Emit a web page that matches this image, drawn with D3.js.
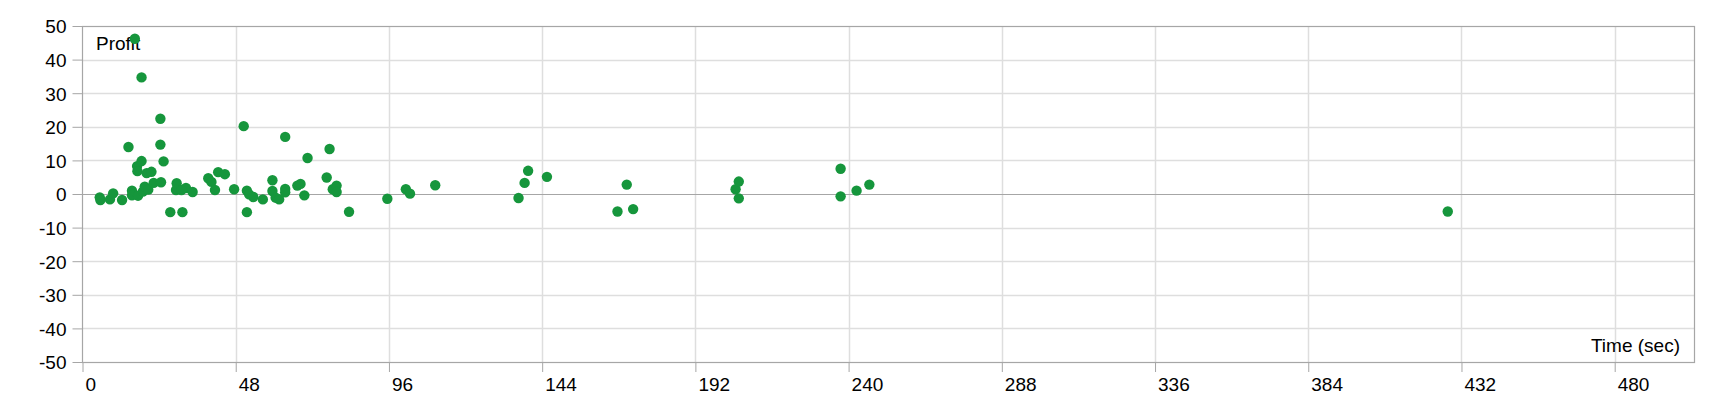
<!DOCTYPE html>
<html>
<head>
<meta charset="utf-8">
<script src="https://cdn.jsdelivr.net/npm/d3@7"></script>
<style>
  html, body { margin: 0; padding: 0; background: #fff; }
  svg { display: block; font-family: "Liberation Sans", Arial, sans-serif; }
</style>
</head>
<body>
<svg id="chart" width="1720" height="400"></svg>
<script>
// ---- data ----
const times = [5.4, 5.6, 8.6, 9.6, 12.4, 14.4, 15.5, 15.5, 16.4, 17.1, 17.2, 18.5, 18.5, 17.4, 18.9, 19.5, 20.6, 20.1, 21.6, 22.3,
  24.4, 24.4, 25.4, 24.6, 27.5, 29.5, 29.3, 31.3, 32.4, 31.0, 34.5, 39.4, 40.4, 41.5, 42.5, 44.6, 47.5, 50.5, 51.5, 51.5,
  52.2, 53.5, 56.5, 59.5, 59.5, 60.5, 61.6, 63.5, 63.5, 63.5, 67.3, 68.3, 69.5, 70.5, 76.5, 77.4, 78.4, 79.6, 79.6, 83.5,
  95.5, 101.3, 102.6, 110.5, 136.6, 138.5, 139.6, 145.5, 167.6, 170.5, 172.5, 204.6, 205.6, 205.6, 237.5, 237.5, 242.5, 246.5, 427.7];
const profits = [-1.0, -1.8, -1.6, 0.2, -1.8, 14.0, 1.0, -0.4, 46.2, 8.3, 6.8, 9.8, 34.7, -0.5, 0.7, 2.2, 1.3, 6.2, 6.6, 3.3,
  22.4, 14.7, 9.7, 3.5, -5.4, 3.2, 1.2, -5.4, 1.8, 1.2, 0.6, 4.7, 3.6, 1.2, 6.5, 5.9, 1.4, 20.2, 1.0, -5.4,
  -0.1, -0.9, -1.6, 4.1, 0.9, -1.1, -1.6, 17.0, 1.5, 0.5, 2.5, 3.0, -0.4, 10.7, 4.9, 13.4, 1.4, 2.5, 0.6, -5.3,
  -1.4, 1.4, 0.1, 2.6, -1.2, 3.3, 6.9, 5.1, -5.2, 2.8, -4.5, 1.4, 3.7, -1.3, 7.5, -0.7, 1.0, 2.8, -5.2];
const xTicks = [0, 48, 96, 144, 192, 240, 288, 336, 384, 432, 480];
const yTicks = [-50, -40, -30, -20, -10, 0, 10, 20, 30, 40, 50];
const xDomain = [0, 505];
const yDomain = [-50, 50];
const xTitle = "Time (sec)";
const yTitle = "Profit";

// ---- layout ----
const svg = d3.select("#chart");
const L = 82.5, R = 1694.5, T = 26, B = 362;
const x = d3.scaleLinear().domain(xDomain).range([L, R]);
const y = d3.scaleLinear().domain(yDomain).range([B, T]);

const gridColor = "#dedede";
const axisColor = "#a6a6a6";
const dotColor = "#16963c";
const FS = 19;

// horizontal gridlines
svg.append("g").selectAll("line").data(yTicks.filter(d => d !== 0 && d !== 50 && d !== -50)).join("line")
  .attr("x1", L).attr("x2", R)
  .attr("y1", d => Math.round(y(d)) + 0.5).attr("y2", d => Math.round(y(d)) + 0.5)
  .attr("stroke", gridColor).attr("stroke-width", 1.5);

// vertical gridlines
svg.append("g").selectAll("line").data(xTicks.filter(d => d !== 0)).join("line")
  .attr("y1", T).attr("y2", B)
  .attr("x1", d => Math.round(x(d)) + 0.5).attr("x2", d => Math.round(x(d)) + 0.5)
  .attr("stroke", gridColor).attr("stroke-width", 1.5);

// zero line
svg.append("line")
  .attr("x1", L).attr("x2", R)
  .attr("y1", Math.round(y(0)) + 0.5).attr("y2", Math.round(y(0)) + 0.5)
  .attr("stroke", axisColor).attr("stroke-width", 1);

// border
svg.append("rect")
  .attr("x", L).attr("y", T + 0.5).attr("width", R - L).attr("height", B - T)
  .attr("fill", "none").attr("stroke", axisColor).attr("stroke-width", 1.2);

// y axis
const yAxis = d3.axisLeft(y).tickValues(yTicks).tickSize(10).tickPadding(6).tickFormat(d => String(d));
const gy = svg.append("g").attr("transform", `translate(${L},0)`).call(yAxis);
gy.select(".domain").remove();
gy.selectAll(".tick line").attr("stroke", axisColor);
gy.selectAll(".tick text").attr("fill", "#000").attr("font-size", FS)
  .attr("font-family", "Liberation Sans, Arial, sans-serif").attr("dy", "0.36em");

// x axis
const xAxis = d3.axisBottom(x).tickValues(xTicks).tickSize(10).tickPadding(6).tickFormat(d => String(d));
const gx = svg.append("g").attr("transform", `translate(0,${B})`).call(xAxis);
gx.select(".domain").remove();
gx.selectAll(".tick line").attr("stroke", axisColor);
gx.selectAll(".tick text").attr("fill", "#000").attr("font-size", FS)
  .attr("font-family", "Liberation Sans, Arial, sans-serif")
  .attr("text-anchor", "start").attr("x", 2.5).attr("y", 0).attr("dy", 28.5);

// titles
svg.append("text").attr("x", 96).attr("y", 50).attr("font-size", FS).attr("fill", "#000").text(yTitle);
svg.append("text").attr("x", 1680).attr("y", 351.5).attr("font-size", FS).attr("fill", "#000")
  .attr("text-anchor", "end").text(xTitle);

// points
const pts = times.map((t, i) => ({ t, p: profits[i] }));
svg.append("g").selectAll("circle").data(pts).join("circle")
  .attr("cx", d => x(d.t)).attr("cy", d => y(d.p)).attr("r", 5.2)
  .attr("fill", dotColor);
</script>
</body>
</html>
